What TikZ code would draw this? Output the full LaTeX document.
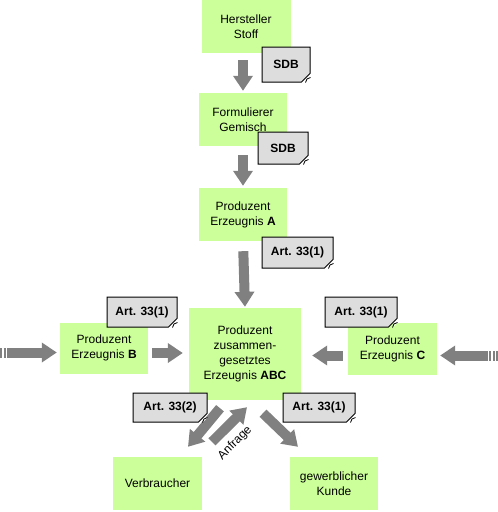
\documentclass[tikz,border=0pt]{standalone}
\usepackage{fontspec}
\setmainfont{Liberation Sans}
\usepackage{tikz}
\usetikzlibrary{arrows.meta,shapes.misc}
\definecolor{boxgreen}{RGB}{204,255,153}
\definecolor{notegray}{RGB}{221,221,221}
\definecolor{arrowgray}{RGB}{128,128,128}
\newcommand{\diagfont}{\fontsize{12}{15}\selectfont}
\tikzset{
stage/.style = {rectangle, fill=boxgreen, align=center, font=\diagfont, minimum width=#1, minimum height=53pt, inner sep=2pt},
stage/.default = 88pt, % width of the green boxes
note/.style = {chamfered rectangle, chamfered rectangle corners=south east, chamfered rectangle xsep=5pt, draw=black, line width=1pt, fill=notegray, font=\diagfont\bfseries, minimum width=#1, minimum height=30pt, inner sep=1pt},
note/.default = 71pt,
flow/.style = {draw=arrowgray, line width=10pt, -{Triangle[width=19pt,length=15pt]}},
stripes/.style = {draw=arrowgray, line width=10pt, dash pattern=on 2pt off 1.5pt},
}

\begin{document}
\begin{tikzpicture}[x=1pt, y=-1pt]
    \useasboundingbox (0,0) rectangle (498,512);

    % the chain from top to bottom
    \node[stage, minimum width=89pt] (hs) at (246,26.5) {Hersteller\\Stoff};
    \node[stage] (fg) at (243,119.5) {Formulierer\\Gemisch};
    \node[stage] (pa) at (243,214.5) {Produzent\\Erzeugnis \textbf{A}};
    \node[stage, minimum width=112pt, minimum height=92pt] (abc) at (245,354) {Produzent\\zusammen-\\gesetztes\\Erzeugnis \textbf{ABC}};
    \node[stage, minimum height=51pt] (pb) at (104,348) {Produzent\\Erzeugnis \textbf{B}};
    \node[stage, minimum width=89pt, minimum height=52pt] (pc) at (392.5,349) {Produzent\\Erzeugnis \textbf{C}};
    \node[stage, minimum width=89pt] (vb) at (157.5,483.5) {Verbraucher};
    \node[stage] (kd) at (334,483.5) {gewerblicher\\Kunde};

    \draw[flow, shorten <=7pt, shorten >=2pt] (hs.south -| fg.north) -- (fg.north);
    \draw[flow, shorten <=9pt, shorten >=2pt] (fg.south) -- (pa.north);
    \draw[flow, shorten <=10pt, shorten >=1pt] (pa.south) -- (abc.north);

    % side inputs
    \coordinate (leftEnd) at (0,352.5);
    \coordinate (leftTail) at (9,352.5);
    \draw[stripes] (leftEnd) -- (leftTail);
    \draw[flow, shorten >=3pt] (leftTail) -- (leftTail -| pb.west);
    \coordinate (bOut) at ([yshift=-5pt]pb.east);
    \draw[flow, shorten <=4pt, shorten >=6pt] (bOut) -- (bOut -| abc.west);

    \coordinate (rightEnd) at (498,355.5);
    \coordinate (rightTail) at (488,355.5);
    \draw[stripes] (rightEnd) -- (rightTail);
    \draw[flow, shorten >=3pt] (rightTail) -- (rightTail -| pc.east);
    \coordinate (cOut) at ([yshift=-6.5pt]pc.west);
    \draw[flow, shorten <=5pt, shorten >=11pt] (cOut) -- (cOut -| abc.east);

    % to the customers
    \draw[flow] ([shift={(-25,8)}]abc.south) -- ([shift={(30.5,-10)}]vb.north);
    \draw[flow] ([shift={(54.5,-15)}]vb.north) -- ([shift={(2,7)}]abc.south);
    \draw[flow] ([shift={(18,13)}]abc.south) -- ([shift={(-36,-10)}]kd.north);
    \node[rotate=45, font=\diagfont] (anfrage) at (235,443) {Anfrage};

    % documents
    \node[note, minimum width=48pt, minimum height=35pt] (sdb1) at (286,64.5) {SDB};
    \node[note, minimum width=50pt, minimum height=32pt] (sdb2) at (283,148) {SDB};
    \node[note, minimum height=31pt] (artA) at (297.5,252.5) {Art. 33(1)};
    \node[note, minimum width=70pt] (artB) at (142,312) {Art. 33(1)};
    \node[note, minimum width=72pt] (artC) at (361,312) {Art. 33(1)};
    \node[note, minimum width=74pt, minimum height=29pt] (artV) at (170,407.5) {Art. 33(2)};
    \node[note, minimum width=72pt, minimum height=29pt] (artK) at (319,407.5) {Art. 33(1)};
    \foreach \n in {sdb1,sdb2,artA,artB,artC,artV,artK}
        \draw[fill=white, line width=0.8pt] (\n.south -| \n.east) ++(-5,0) -- ++(1.5,-3.5) -- ++(3.5,-1.5);
\end{tikzpicture}
\end{document}
